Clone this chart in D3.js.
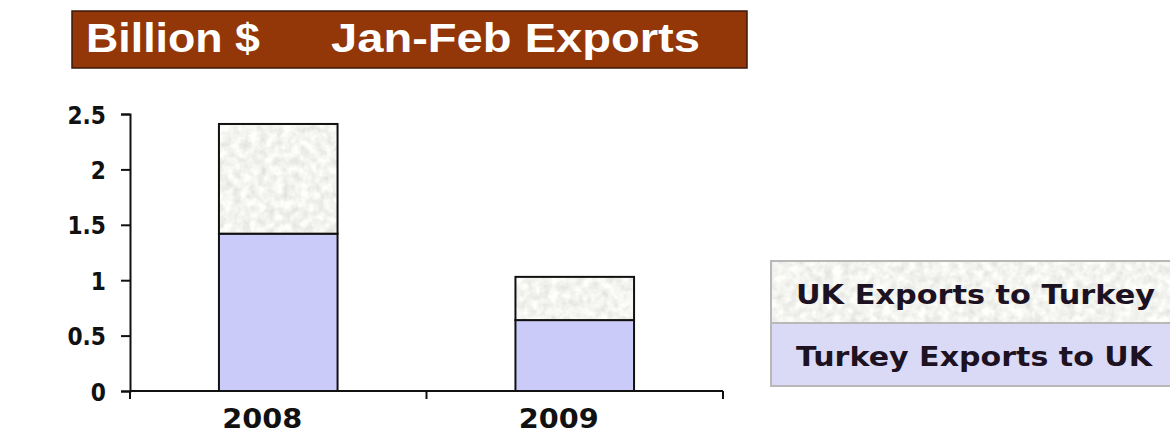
<!DOCTYPE html>
<html>
<head>
<meta charset="utf-8">
<script src="https://cdn.jsdelivr.net/npm/d3@7"></script>
<style>
  body { margin: 0; background: #fff; }
  svg { display: block; }
</style>
</head>
<body>
<svg id="chart" width="1170" height="433"></svg>
<script>
// data
var years = ["2008", "2009"];
var turkeyToUK = [1.42, 0.64];
var ukToTurkey = [0.99, 0.39];
var seriesNames = ["UK Exports to Turkey", "Turkey Exports to UK"];
var yTicks = [0, 0.5, 1, 1.5, 2, 2.5];

var svg = d3.select("#chart");

// noisy grey fill for the UK series
var defs = svg.append("defs");
var f = defs.append("filter").attr("id", "grain")
    .attr("x", 0).attr("y", 0).attr("width", 1).attr("height", 1);
f.append("feTurbulence").attr("type", "fractalNoise")
    .attr("baseFrequency", 0.12).attr("numOctaves", 3).attr("seed", 4);
f.append("feColorMatrix").attr("type", "matrix")
    .attr("values", "0 0 0 0.4 0.7  0 0 0 0.4 0.7  0 0 0 0.38 0.68  0 0 0 0 1");
f.append("feComposite").attr("in2", "SourceGraphic").attr("operator", "in");

// title bar
svg.append("rect").attr("x", 72).attr("y", 11).attr("width", 675).attr("height", 57)
    .attr("fill", "#933608").attr("stroke", "#3a1a0a").attr("stroke-width", 1.5);
var titleStyle = function (t) {
  t.attr("fill", "#fff").attr("font-family", "Liberation Sans, Arial, sans-serif")
   .attr("font-weight", "bold").attr("font-size", 40)
   .attr("lengthAdjust", "spacingAndGlyphs");
};
svg.append("text").attr("x", 86).attr("y", 52).attr("textLength", 174)
    .text("Billion $").call(titleStyle);
svg.append("text").attr("x", 331).attr("y", 52).attr("textLength", 369)
    .text("Jan-Feb Exports").call(titleStyle);

// scales
var x = d3.scaleBand().domain(years).range([130, 723]).paddingInner(0.6).paddingOuter(0.3);
var y = d3.scaleLinear().domain([0, 2.5]).range([391, 114]);

var labelFont = "DejaVu Sans, Verdana, sans-serif";

// bars
var g = svg.append("g");
g.selectAll(".low").data(years).join("rect")
    .attr("x", function (d) { return x(d); })
    .attr("width", x.bandwidth())
    .attr("y", function (d, i) { return y(turkeyToUK[i]); })
    .attr("height", function (d, i) { return y(0) - y(turkeyToUK[i]); })
    .attr("fill", "#cbcbf9").attr("stroke", "#111").attr("stroke-width", 2);
g.selectAll(".high").data(years).join("rect")
    .attr("x", function (d) { return x(d); })
    .attr("width", x.bandwidth())
    .attr("y", function (d, i) { return y(turkeyToUK[i] + ukToTurkey[i]); })
    .attr("height", function (d, i) { return y(turkeyToUK[i]) - y(turkeyToUK[i] + ukToTurkey[i]); })
    .attr("fill", "#e9e9e6").attr("filter", "url(#grain)");
g.selectAll(".highline").data(years).join("rect")
    .attr("x", function (d) { return x(d); })
    .attr("width", x.bandwidth())
    .attr("y", function (d, i) { return y(turkeyToUK[i] + ukToTurkey[i]); })
    .attr("height", function (d, i) { return y(turkeyToUK[i]) - y(turkeyToUK[i] + ukToTurkey[i]); })
    .attr("fill", "none").attr("stroke", "#111").attr("stroke-width", 2);

// y axis
var yAxis = svg.append("g").attr("transform", "translate(130,0)")
    .call(d3.axisLeft(y).tickValues(yTicks).tickSize(9).tickPadding(15)
      .tickFormat(function (d) { return d; }));
yAxis.select(".domain").attr("stroke", "#111").attr("stroke-width", 2);
yAxis.selectAll(".tick line").attr("stroke", "#111").attr("stroke-width", 2);
yAxis.selectAll(".tick text").attr("font-family", labelFont).attr("font-weight", "bold")
    .attr("font-size", 25).attr("fill", "#111").attr("dy", "0.36em")
    .each(function () {
      // the original digits are a bit narrower than DejaVu's
      var w = this.getComputedTextLength();
      d3.select(this).attr("textLength", w * 0.87).attr("lengthAdjust", "spacingAndGlyphs");
    });

// x axis, ticks at category edges
var xAxis = svg.append("g").attr("transform", "translate(0,391)");
xAxis.append("line").attr("x1", 130).attr("x2", 723).attr("stroke", "#111").attr("stroke-width", 2);
var edges = [130, (130 + 723) / 2, 723];
xAxis.selectAll(".edge").data(edges).join("line")
    .attr("x1", function (d) { return d; }).attr("x2", function (d) { return d; })
    .attr("y1", 0).attr("y2", 8).attr("stroke", "#111").attr("stroke-width", 2);
xAxis.selectAll(".lab").data(years).join("text")
    .attr("x", function (d) { return x(d) + x.bandwidth() / 2 - 16; })
    .attr("y", 37).attr("text-anchor", "middle")
    .attr("textLength", 80).attr("lengthAdjust", "spacingAndGlyphs")
    .attr("font-family", labelFont).attr("font-weight", "bold").attr("font-size", 26)
    .attr("fill", "#111").text(function (d) { return d; });

// legend
var legendColors = ["#e9e9e6", "#dadaf6"];
var lg = svg.append("g");
lg.selectAll("rect").data(seriesNames).join("rect")
    .attr("x", 771).attr("y", function (d, i) { return 261 + i * 62; })
    .attr("width", 420).attr("height", 62)
    .attr("fill", function (d, i) { return legendColors[i]; })
    .attr("filter", function (d, i) { return i === 0 ? "url(#grain)" : null; });
lg.append("rect").attr("x", 771).attr("y", 261).attr("width", 420).attr("height", 125)
    .attr("fill", "none").attr("stroke", "#b8b8b8").attr("stroke-width", 2);
lg.append("line").attr("x1", 771).attr("x2", 1170).attr("y1", 323).attr("y2", 323)
    .attr("stroke", "#b8b8b8").attr("stroke-width", 2);
lg.selectAll("text").data(seriesNames).join("text")
    .attr("x", 796).attr("y", function (d, i) { return 304 + i * 62; })
    .attr("textLength", function (d, i) { return i === 0 ? 359 : 356; })
    .attr("lengthAdjust", "spacingAndGlyphs")
    .attr("font-family", labelFont).attr("font-weight", "bold").attr("font-size", 27)
    .attr("fill", "#1c1222").text(function (d) { return d; });
</script>
</body>
</html>
